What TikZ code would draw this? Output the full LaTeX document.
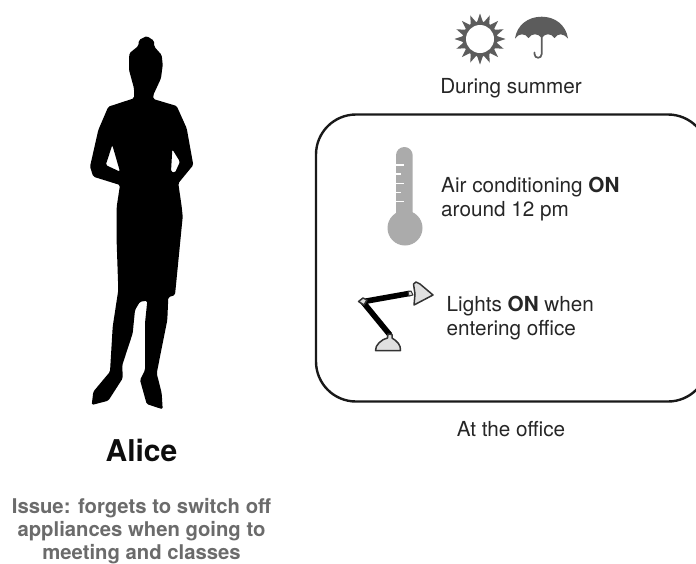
\documentclass[tikz,border=0pt]{standalone}
\usepackage{fontspec}
\setmainfont{TeX Gyre Heros}
\usetikzlibrary{calc}
\definecolor{icon}{gray}{0.36}
\definecolor{thermo}{gray}{0.67}
\definecolor{issue}{gray}{0.42}
\definecolor{lampfill}{gray}{0.88}
\tikzset{
  label/.style={inner sep=0pt,font=\fontsize{20.7}{24}\selectfont,align=left,text=black!85},
  issuetext/.style={inner sep=0pt,font=\fontsize{20.3}{23}\selectfont\bfseries,align=center,text=issue},
  lampoutline/.style={draw=black!80,line width=1.5pt,fill=lampfill,line join=round},
  lamparm/.style={draw=black,line width=5.6pt},
}
\begin{document}
\begin{tikzpicture}[x=1pt,y=-1pt]
\useasboundingbox (0,0) rectangle (696,563);
% silhouette
\fill[black,even odd rule,rounded corners=1.5pt]
 (146.7,36) -- (154,40.7) -- (154.3,46.7) -- (161.7,55) -- (162.7,65) -- (161,78.3) -- (153.3,95) -- (153.3,99)
 -- (176.7,106) -- (186.7,128.3) -- (193.3,165) -- (178.3,183.3) -- (181.7,206.7) -- (182.7,216.7)
 -- (175,295) -- (168.3,297.3) -- (167.3,320) -- (156.7,373.3) -- (161.7,393.3) -- (162.7,409.3)
 -- (146.7,404) -- (140,380) -- (145,370) -- (145,323.3) -- (147.3,300.7) -- (140,301.7) -- (135,310)
 -- (132.7,333.3) -- (122.3,365) -- (122.7,378.3) -- (108.3,400.7) -- (91.7,405) -- (93.3,391.7)
 -- (110,371.7) -- (112.7,326.7) -- (118.3,290) -- (116.7,243) -- (116.7,206.7) -- (120,185)
 -- (93.3,176.7) -- (90,166.7) -- (98.3,130) -- (108.3,106.7) -- (134,98.3) -- (134,88.3) -- (129,70)
 -- (129.3,53.3) -- (138.3,46) -- (139,40) -- cycle
 (112.3,145) -- (105.7,165) -- (120,171.7) -- cycle
 (172.3,149.3) -- (171,171.7) -- (175,172.7) -- (180,161.7) -- cycle;
\node[inner sep=0pt,font=\fontsize{30}{32}\selectfont\bfseries,text=black!95] (alice) at (141.5,450) {Alice};
\node[issuetext] (issue) at (141.5,531.5) {Issue: forgets to switch off\\appliances when going to\\meeting and classes};
% sun
\fill[icon] \foreach \a in {0,22.5,...,337.5} {
  ($(480,39)+(\a-11.25:16.5)$) -- ($(480,39)+(\a:25.5)$) -- ($(480,39)+(\a+11.25:16.5)$) -- cycle };
\fill[icon] (480,39) circle (17.5);
\fill[white] (480,39) circle (14);
% umbrella
\fill[icon] (515,38.5) .. controls (517,25) and (528,16.7) .. (541.7,16.7)
  .. controls (555,16.7) and (566,25) .. (568,38.5)
  .. controls (563,33) and (558,33) .. (554.5,38)
  .. controls (551,33) and (545,33) .. (541.7,38)
  .. controls (538,33) and (532,33) .. (528.5,38)
  .. controls (525,33) and (519,33) .. (515,38.5) -- cycle;
\draw[icon,line width=1.7pt,line cap=round] (541.7,36) -- (541.7,54) .. controls (541.7,59) and (534.5,59) .. (534.5,54) -- (534.5,52.5);
\node[label] (summer) at (511,88) {During summer};
% office
\begin{scope}
\clip (0,0) rectangle (696,563);
\draw[line width=2.4pt,rounded corners=40pt,black!90] (316,114.5) rectangle (708,401.5);
\end{scope}
\node[label] (office) at (511,429) {At the office};
% thermometer
\fill[thermo,rounded corners=8.3pt] (396,147) rectangle (412.7,228);
\fill[thermo] (405,228) circle (17.5);
\foreach \y/\l in {165/7.5,174/4.5,183.3/7.5,192.3/4.5,201.3/7.5}
  \draw[white,line width=1.5pt] (396,\y) -- ++(\l,0);
\node[label,anchor=west] (air) at (441,199.5) {Air conditioning \textbf{ON}\\around 12 pm};
% lamp
\draw[lamparm] (362.7,301.7) -- (410,293.3);
\draw[lamparm] (362.7,301.7) -- (390,335);
\draw[lampoutline] (358.5,301.5) -- (363,298) -- (367,300) -- (364,305) -- cycle;
\draw[lampoutline,line width=1pt] (408,292) -- (411,291) -- (413,295) -- (409,296) -- cycle;
\draw[lampoutline] (375.5,350.5) .. controls (375,345) and (382,339) .. (387.5,338) -- (388,334) -- (392,334.5) -- (392,338)
  .. controls (397,341) and (401,345) .. (400.5,350.5) -- cycle;
\draw[lampoutline] (413.5,284) -- (416,282) -- (420,284) -- (433,295) -- (414,305) -- (415,294) -- cycle;
\node[label,anchor=west] (lights) at (446.5,318.5) {Lights \textbf{ON} when\\entering office};
\end{tikzpicture}
\end{document}
